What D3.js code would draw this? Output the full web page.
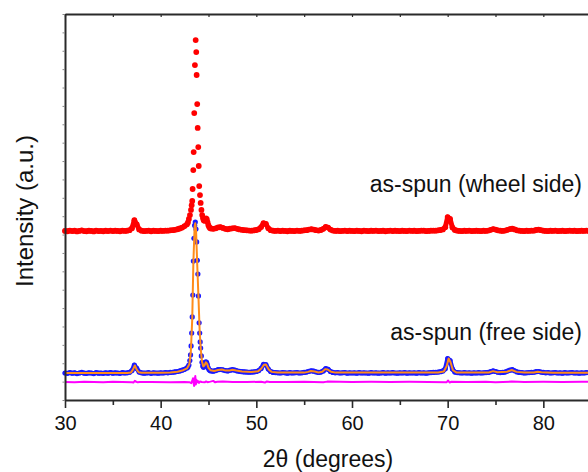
<!DOCTYPE html>
<html>
<head>
<meta charset="utf-8">
<script src="https://cdn.jsdelivr.net/npm/d3@7"></script>
<style>
  html, body { margin: 0; padding: 0; background: #fff; overflow: hidden; }
  svg { display: block; overflow: hidden; }
  text { font-family: "Liberation Sans", Arial, Helvetica, sans-serif; fill: #111; }
</style>
</head>
<body>
<svg id="chart" width="588" height="472"></svg>
<script>
// ---- XRD scans (2θ in degrees, intensity in counts) ----
const scanStep = 0.25;

// Wheel side, coarse scan 30.00–42.75°
const wheelLowStart = 30;
const wheelLow = [
  920, 918, 922, 919, 921, 917, 920, 923, 919, 918, 921, 920, 917, 922, 919, 920, 918, 921, 919, 922,
  919, 921, 920, 918, 922, 920, 921, 924, 935, 978, 955, 928, 921, 919, 920, 922, 918, 921, 920, 919,
  921, 920, 922, 921, 923, 924, 926, 929, 933, 938, 946, 956
];
// Wheel side, fine scan across the main reflection
const wheelPeak = [
  [42.85, 966], [42.95, 985], [43.06, 1006], [43.17, 1034], [43.24, 1060], [43.30, 1083],
  [43.34, 1148], [43.41, 1251], [43.45, 1349], [43.51, 1561], [43.58, 1822], [43.66, 1958],
  [43.72, 1893], [43.76, 1768], [43.82, 1610], [43.87, 1480], [43.93, 1376], [43.98, 1273],
  [44.03, 1164], [44.11, 1115], [44.18, 1072], [44.26, 1034], [44.34, 1006], [44.42, 990],
  [44.50, 978], [44.58, 975], [44.66, 982], [44.74, 988], [44.82, 984], [44.90, 968],
  [44.98, 952], [45.06, 942], [45.15, 936]
];
// Wheel side, coarse scan 45.25–85.50°
const wheelHighStart = 45.25;
const wheelHigh = [
  933, 931, 934, 939, 941, 936, 931, 929, 932, 934, 935, 931, 928, 926, 924, 923, 922, 921, 923, 925,
  929, 941, 962, 958, 934, 924, 921, 920, 922, 919, 921, 920, 918, 921, 920, 919, 922, 920, 921, 923,
  924, 927, 929, 927, 924, 922, 925, 931, 942, 938, 927, 922, 920, 921, 919, 920, 922, 919, 921, 920,
  919, 921, 920, 918, 922, 920, 919, 921, 920, 922, 919, 920, 921, 918, 920, 922, 919, 921, 920, 919,
  921, 920, 919, 922, 920, 921, 919, 920, 922, 921, 919, 920, 921, 922, 921, 923, 925, 928, 940, 995,
  985, 938, 925, 921, 920, 919, 921, 920, 922, 919, 920, 921, 920, 919, 921, 920, 922, 926, 930, 927,
  923, 921, 920, 922, 926, 930, 932, 928, 923, 921, 920, 919, 921, 920, 922, 921, 925, 927, 924, 921,
  920, 919, 921, 920, 922, 919, 920, 921, 919, 920, 922, 920, 921, 919, 920, 921, 920, 922, 919, 920,
  921, 920
];

// Free side, observed, coarse scan 30.00–42.75°
const freeLowStart = 30;
const freeLow = [
  147, 145, 149, 146, 148, 144, 147, 150, 146, 145, 148, 147, 144, 149, 146, 147, 145, 148, 146, 149,
  146, 148, 147, 145, 149, 147, 148, 151, 160, 190, 172, 152, 148, 146, 147, 149, 145, 148, 147, 146,
  148, 147, 149, 148, 150, 151, 153, 155, 158, 162, 167, 174
];
// Free side, observed, fine scan across the main reflection
const freePeak = [
  [42.85, 180], [42.95, 190], [43.05, 215], [43.12, 245], [43.18, 294], [43.24, 364],
  [43.30, 452], [43.36, 571], [43.42, 756], [43.48, 880], [43.55, 950], [43.62, 968],
  [43.69, 930], [43.76, 860], [43.83, 760], [43.89, 685], [43.95, 566], [44.02, 420],
  [44.08, 364], [44.13, 316], [44.18, 283], [44.25, 240], [44.32, 205], [44.40, 185],
  [44.48, 178], [44.56, 185], [44.64, 198], [44.72, 207], [44.80, 205], [44.88, 192],
  [44.96, 176], [45.05, 166], [45.15, 161]
];
// Free side, observed, coarse scan 45.25–85.50°
const freeHighStart = 45.25;
const freeHigh = [
  158, 157, 160, 165, 166, 164, 160, 158, 162, 165, 163, 158, 156, 154, 153, 152, 151, 152, 153, 155,
  160, 172, 194, 192, 168, 155, 150, 149, 148, 147, 149, 148, 146, 149, 147, 148, 149, 147, 148, 150,
  152, 156, 159, 157, 153, 150, 152, 158, 171, 167, 155, 150, 148, 149, 147, 148, 149, 146, 148, 147,
  148, 146, 149, 147, 148, 147, 146, 149, 147, 148, 146, 147, 149, 146, 148, 147, 149, 147, 146, 148,
  147, 149, 146, 148, 147, 148, 146, 149, 147, 148, 146, 148, 149, 150, 151, 152, 154, 158, 170, 225,
  215, 168, 152, 149, 148, 147, 149, 147, 148, 146, 148, 147, 149, 147, 148, 149, 150, 154, 158, 155,
  151, 149, 150, 152, 157, 162, 165, 159, 153, 150, 149, 147, 148, 149, 150, 151, 154, 155, 152, 150,
  148, 149, 147, 148, 149, 147, 148, 146, 149, 147, 148, 149, 147, 148, 146, 148, 147, 149, 148, 147,
  148, 147
];

// Free side, refined (calculated) profile
const freeCalc = [
  [30, 147], [36.5, 147], [36.9, 150], [37.1, 165], [37.3, 188], [37.5, 165], [37.7, 151], [38, 148],
  [40, 148], [41, 150], [41.75, 154], [42.25, 160], [42.75, 172], [43.0, 195], [43.15, 260],
  [43.3, 440], [43.42, 750], [43.55, 945], [43.62, 962], [43.7, 920], [43.82, 740], [43.95, 560],
  [44.08, 370], [44.2, 270], [44.32, 210], [44.45, 183], [44.58, 188], [44.72, 205], [44.85, 198],
  [45.0, 175], [45.2, 162], [45.6, 158], [46.0, 163], [46.4, 166], [46.8, 160], [47.2, 161],
  [47.5, 164], [47.9, 160], [48.5, 155], [49.5, 152], [50.2, 157], [50.5, 170], [50.8, 192],
  [51.0, 193], [51.3, 166], [51.6, 153], [52.2, 149], [55.0, 149], [55.4, 153], [55.7, 158],
  [56.1, 155], [56.5, 150], [56.9, 154], [57.2, 168], [57.45, 166], [57.8, 154], [58.3, 149],
  [69.0, 150], [69.6, 155], [69.9, 185], [70.1, 226], [70.3, 205], [70.55, 162], [70.9, 150],
  [74.3, 150], [74.75, 157], [75.2, 151], [76.2, 154], [76.7, 163], [77.2, 153], [78.0, 149],
  [79.0, 150], [79.4, 154], [79.8, 151], [81, 148], [86, 148]
];

// Free side, difference curve (observed − calculated, offset)
const freeDiff = [
  [30, 98], [31, 97], [32, 99], [33, 98], [34, 97], [35, 99], [36, 98], [37.0, 97], [37.15, 95],
  [37.3, 104], [37.45, 99], [37.6, 96], [37.8, 98], [39, 98], [41, 97], [42.5, 98], [43.0, 97],
  [43.2, 92], [43.3, 105], [43.38, 118], [43.45, 90], [43.5, 76], [43.56, 112], [43.62, 130],
  [43.68, 85], [43.74, 110], [43.8, 95], [43.9, 103], [44.0, 93], [44.1, 101], [44.3, 98],
  [44.6, 96], [44.75, 101], [44.9, 97], [45.2, 100], [45.5, 104], [45.7, 96], [45.9, 99],
  [46.5, 100], [47.5, 98], [49, 98], [50.5, 99], [50.9, 95], [51.1, 101], [51.4, 98], [53, 98],
  [55, 99], [57, 97], [57.4, 100], [60, 98], [62, 99], [64, 98], [66, 99], [68, 98], [69.9, 97],
  [70.05, 106], [70.2, 95], [70.4, 99], [72, 98], [74, 99], [75, 97], [76.7, 100], [78, 98],
  [80, 99], [82, 98], [84, 99], [86, 98]
];

// Axis ticks and labels
const xMajorTicks = [30, 40, 50, 60, 70, 80];
const xMinorTicks = [35, 45, 55, 65, 75, 85];
const yTicks = d3.range(0, 2101, 100);
const seriesLabels = ["as-spun (wheel side)", "as-spun (free side)"];
const xTitle = "2θ (degrees)";
const yTitle = "Intensity (a.u.)";

// ---- helpers ----
const grid = (start, values) => values.map((v, i) => [start + i * scanStep, v]);
const wheelLowPts = grid(wheelLowStart, wheelLow);
const wheelHighPts = grid(wheelHighStart, wheelHigh);
const freeLowPts = grid(freeLowStart, freeLow);
const freeHighPts = grid(freeHighStart, freeHigh);
const wheelPoints = wheelLowPts.concat(wheelPeak, wheelHighPts);
const freePoints = freeLowPts.concat(freePeak, freeHighPts);

// ---- layout ----
const svg = d3.select("#chart");
const x = d3.scaleLinear().domain([30, 90]).range([65, 639]);
const y = d3.scaleLinear().domain([0, 2100]).range([400, 14]);

const plot = svg.append("g");
const line = d3.line().x(d => x(d[0])).y(d => y(d[1]));

// dense coarse-scan markers merge into a continuous band
function band(pts, color, width) {
  plot.append("path").datum(pts)
    .attr("d", line).attr("fill", "none")
    .attr("stroke", color).attr("stroke-width", width)
    .attr("stroke-linejoin", "round").attr("stroke-linecap", "round");
}

// wheel side scatter
band(wheelLowPts, "#ff0000", 5);
band(wheelHighPts, "#ff0000", 5);
plot.append("g").selectAll("circle")
  .data(wheelPoints).join("circle")
  .attr("cx", d => x(d[0])).attr("cy", d => y(d[1]))
  .attr("r", 2.9).attr("fill", "#ff0000");

// free side observed scatter
band(freeLowPts, "#1a1aff", 4.6);
band(freeHighPts, "#1a1aff", 4.6);
plot.append("g").selectAll("circle")
  .data(freePoints).join("circle")
  .attr("cx", d => x(d[0])).attr("cy", d => y(d[1]))
  .attr("r", 2.6).attr("fill", "#1a1aff");

// calculated profile
plot.append("path").datum(freeCalc)
  .attr("d", line).attr("fill", "none")
  .attr("stroke", "#ff8c1a").attr("stroke-width", 2).attr("stroke-linejoin", "round");

// difference curve
plot.append("path").datum(freeDiff)
  .attr("d", line).attr("fill", "none")
  .attr("stroke", "#ff00ff").attr("stroke-width", 2).attr("stroke-linejoin", "round");

// ---- axes ----
const axisColor = "#2a2a2a";

const xAxis = svg.append("g").attr("transform", "translate(0,400)")
  .call(d3.axisBottom(x).tickValues(xMajorTicks).tickSize(8).tickSizeOuter(0).tickPadding(8).tickFormat(d3.format("d")));
xAxis.select(".domain").attr("stroke", axisColor).attr("stroke-width", 2);
xAxis.selectAll(".tick line").attr("stroke", axisColor).attr("stroke-width", 1.6);
xAxis.selectAll(".tick text").attr("font-size", 20).attr("fill", "#111")
  .attr("font-family", "Liberation Sans, Arial, sans-serif");

const xMinor = svg.append("g").attr("transform", "translate(0,400)")
  .call(d3.axisBottom(x).tickValues(xMinorTicks).tickSize(5).tickSizeOuter(0).tickFormat(""));
xMinor.select(".domain").remove();
xMinor.selectAll(".tick line").attr("stroke", axisColor).attr("stroke-width", 1.6);

const xTop = svg.append("g").attr("transform", "translate(0,14)")
  .call(d3.axisTop(x).tickValues(xMajorTicks.concat(xMinorTicks)).tickSize(-3).tickSizeOuter(0).tickFormat(""));
xTop.select(".domain").attr("stroke", axisColor).attr("stroke-width", 2);
xTop.selectAll(".tick line").attr("stroke", axisColor).attr("stroke-width", 1.2);

const yAxis = svg.append("g").attr("transform", "translate(65,0)")
  .call(d3.axisLeft(y).tickValues(yTicks).tickSize(2.5).tickSizeOuter(0).tickFormat(""));
yAxis.select(".domain").attr("stroke", axisColor).attr("stroke-width", 2);
yAxis.selectAll(".tick line").attr("stroke", "#888").attr("stroke-width", 1);

// ---- labels ----
svg.append("text").attr("x", 582).attr("y", 192).attr("text-anchor", "end")
  .attr("font-size", 23).text(seriesLabels[0]);
svg.append("text").attr("x", 582).attr("y", 340).attr("text-anchor", "end")
  .attr("font-size", 23).text(seriesLabels[1]);

svg.append("text").attr("x", 328).attr("y", 467).attr("text-anchor", "middle")
  .attr("font-size", 23).text(xTitle);

svg.append("text").attr("transform", "translate(33,211) rotate(-90)").attr("text-anchor", "middle")
  .attr("font-size", 24).text(yTitle);
</script>
</body>
</html>
